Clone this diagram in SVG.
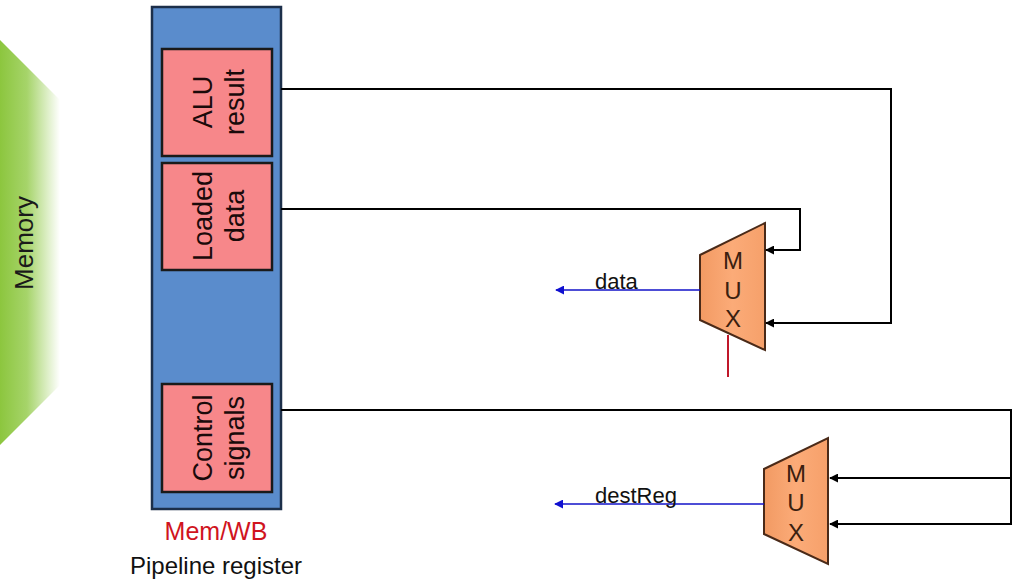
<svg xmlns="http://www.w3.org/2000/svg" width="1021" height="586" viewBox="0 0 1021 586">
<defs>
<linearGradient id="gr" x1="0" y1="0" x2="1" y2="0">
<stop offset="0" stop-color="#8cc63e"/>
<stop offset="0.45" stop-color="#a6d46a"/>
<stop offset="1" stop-color="#ffffff"/>
</linearGradient>
<linearGradient id="mx" x1="0" y1="0" x2="1" y2="0">
<stop offset="0" stop-color="#f29a63"/>
<stop offset="0.5" stop-color="#fbab78"/>
<stop offset="1" stop-color="#f6a06a"/>
</linearGradient>
<marker id="ak" viewBox="0 0 10 10" refX="9" refY="5" markerWidth="9" markerHeight="9" markerUnits="userSpaceOnUse" orient="auto">
<path d="M0,0 L10,5 L0,10 z" fill="#000"/>
</marker>
<marker id="ab" viewBox="0 0 10 10" refX="9" refY="5" markerWidth="9" markerHeight="9" markerUnits="userSpaceOnUse" orient="auto">
<path d="M0,0 L10,5 L0,10 z" fill="#1010d0"/>
</marker>
<style>
.t{font-family:"Liberation Sans","DejaVu Sans",sans-serif;}
.box{fill:#f7878a;stroke:#1a1a1a;stroke-width:2.5;}
.mux{fill:url(#mx);stroke:#4a2a18;stroke-width:2;}
.mt{font-size:24px;fill:#3a200f;text-anchor:middle;}
.bt{font-size:27px;fill:#1a0a0a;text-anchor:middle;}
.w{fill:none;stroke:#000;stroke-width:2;}
.bl{fill:none;stroke:#1212c8;stroke-width:1.5;}
.lbl{font-size:22px;fill:#111;}
</style>
</defs>
<rect width="1021" height="586" fill="#fff"/>
<g id="stage">
<polygon points="0,40 60,100 60,385 0,445" fill="url(#gr)"/>
<text class="t" x="0" y="0" transform="translate(33,243) rotate(-90)" font-size="26" fill="#1a1a1a" text-anchor="middle">Memory</text>
</g>
<g id="memwb">
<rect x="152" y="7" width="129" height="502" fill="#5a8ccc" stroke="#1c2f4a" stroke-width="2.5"/>
<text class="t" x="216" y="540" font-size="25" fill="#d0141e" text-anchor="middle">Mem/WB</text>
<text class="t" x="216" y="574" font-size="24" fill="#111" text-anchor="middle">Pipeline register</text>
</g>
<g id="alu">
<rect class="box" x="162" y="49" width="110" height="107"/>
<text class="t bt" transform="translate(212,102) rotate(-90)">ALU</text>
<text class="t bt" transform="translate(244,102) rotate(-90)">result</text>
</g>
<g id="loaded">
<rect class="box" x="162" y="163" width="110" height="107"/>
<text class="t bt" transform="translate(212,216) rotate(-90)">Loaded</text>
<text class="t bt" transform="translate(244,216) rotate(-90)">data</text>
</g>
<g id="control">
<rect class="box" x="162" y="384" width="110" height="108"/>
<text class="t bt" transform="translate(212,438) rotate(-90)">Control</text>
<text class="t bt" transform="translate(244,438) rotate(-90)">signals</text>
</g>
<g id="mux1">
<polygon class="mux" points="700,255 765,223 765,350 700,320"/>
<text class="t mt" x="733" y="269">M</text>
<text class="t mt" x="733" y="299">U</text>
<text class="t mt" x="733" y="327">X</text>
</g>
<g id="mux2">
<polygon class="mux" points="764,469 828,438 828,564 764,534"/>
<text class="t mt" x="796" y="482">M</text>
<text class="t mt" x="796" y="511">U</text>
<text class="t mt" x="796" y="541">X</text>
</g>
<g id="connectors">
<polyline class="w" points="281,89 891,89 891,323 766,323" marker-end="url(#ak)"/>
<polyline class="w" points="281,209 800,209 800,250 766,250" marker-end="url(#ak)"/>
<polyline class="w" points="281,410 1011,410 1011,524 830,524" marker-end="url(#ak)"/>
<polyline class="w" points="1011,478 830,478" marker-end="url(#ak)"/>
<line class="bl" x1="700" y1="290" x2="556" y2="290" marker-end="url(#ab)"/>
<line class="bl" x1="764" y1="504" x2="555" y2="504" marker-end="url(#ab)"/>
<line x1="728" y1="335" x2="728" y2="377" stroke="#c0182a" stroke-width="2"/>
<text class="t lbl" x="595" y="289">data</text>
<text class="t lbl" x="595" y="503">destReg</text>
</g>
</svg>
